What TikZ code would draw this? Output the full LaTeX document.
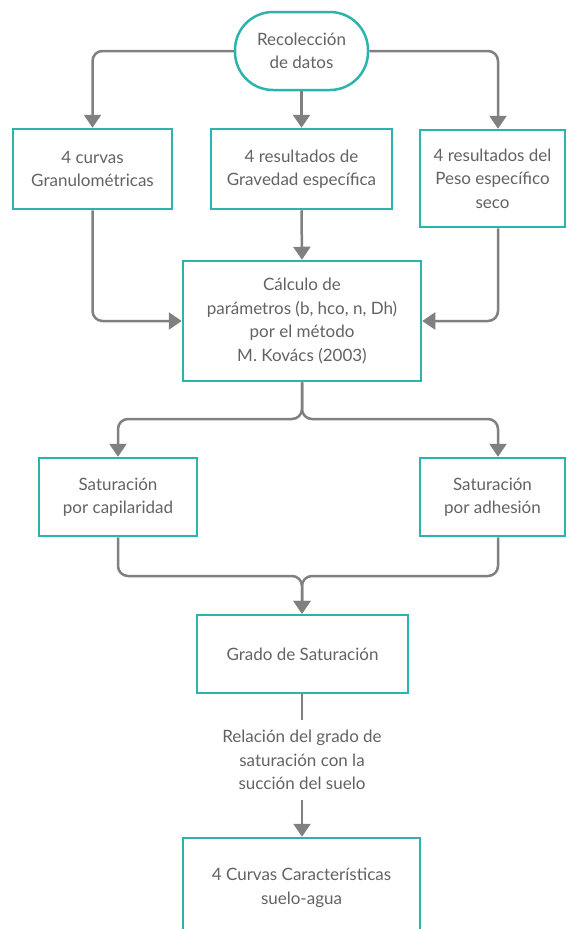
\documentclass[tikz,border=0pt]{standalone}
\usepackage{fontspec}
\setmainfont{Lato}
\usetikzlibrary{arrows.meta,calc}
\definecolor{teal1}{HTML}{2DB3AD}
\definecolor{lineg}{HTML}{808080}
\definecolor{txtg}{HTML}{636363}
\newcommand{\fnt}{\fontsize{17}{23.5}\selectfont}
\begin{document}
\begin{tikzpicture}[x=1pt,y=-1pt,
  box/.style={draw=teal1,line width=2.5pt,fill=white,text=txtg,align=center,font=\fnt,inner sep=0pt},
  conn/.style={draw=lineg,line width=2.5pt,rounded corners=10pt,-{Triangle[width=17pt,length=13pt]}},
  plain/.style={draw=lineg,line width=2.5pt,rounded corners=10pt}]
\useasboundingbox (0,0) rectangle (567,929);
\node[box,rounded corners=38pt,minimum width=133pt,minimum height=78pt] (start) at (301.5,51) {Recolección\\de datos};
\node[box,minimum width=159pt,minimum height=80pt] (b1) at (92.5,169) {4 curvas\\Granulométricas};
\node[box,minimum width=181pt,minimum height=80pt] (b2) at (301.5,169) {4 resultados de\\Gravedad específica};
\node[box,minimum width=145pt,minimum height=97pt] (b3) at (492.5,178.5) {4 resultados del\\Peso específico\\seco};
\node[box,minimum width=238pt,minimum height=120pt] (calc) at (302,321) {Cálculo de\\parámetros (b, hco, n, Dh)\\por el método\\M. Kovács (2003)};
\node[box,minimum width=158pt,minimum height=78pt] (s1) at (118,497) {Saturación\\por capilaridad};
\node[box,minimum width=145pt,minimum height=78pt] (s2) at (492.5,497) {Saturación\\por adhesión};
\node[box,minimum width=211pt,minimum height=78pt] (g) at (302.5,654) {Grado de Saturación};
\node[text=txtg,align=center,font=\fnt,minimum height=80pt,inner sep=0pt] (rel) at (302,760) {Relación del grado de\\saturación con la\\succión del suelo};
\node[box,minimum width=237pt,minimum height=100pt] (fin) at (301.5,888) {4 Curvas Características\\suelo-agua};
\coordinate (rx) at (498,0);
\coordinate (split) at (302,419);
\coordinate (merge) at (302,576);
\draw[conn] (start.west) -| (b1.north);
\draw[conn] (start.south) -- (b2.north);
\draw[conn] (start.east) -| (b3.north -| rx);
\draw[conn] (b1.south) |- (calc.west);
\draw[conn] (b2.south) -- (calc.north);
\draw[conn] (b3.south -| rx) |- (calc.east);
\draw[conn] (calc.south) -- (split) -| (s1.north);
\draw[conn] (calc.south) -- (split) -| (s2.north -| rx);
\draw[conn] (s1.south) |- (merge) -- (g.north -| merge);
\draw[conn] (s2.south -| rx) |- (merge) -- (g.north -| merge);
\draw[plain] (g.south -| merge) -- (rel.north);
\draw[conn] (rel.south) -- (fin.north -| rel.south);
\end{tikzpicture}
\end{document}
